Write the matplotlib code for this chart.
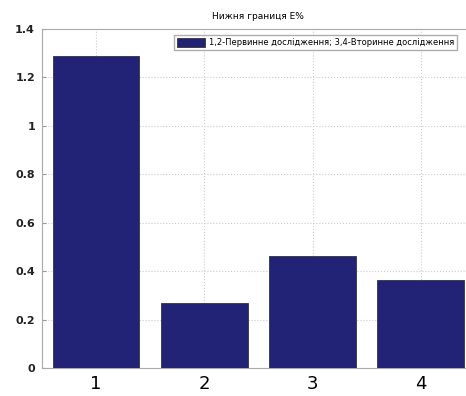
import matplotlib
matplotlib.use('Agg')
import matplotlib.pyplot as plt

categories = [1, 2, 3, 4]
values = [1.29, 0.268, 0.463, 0.365]
title = 'Нижня границя E%'
legend_label = '1,2-Первинне дослідження; 3,4-Вторинне дослідження'
yticks = [0, 0.2, 0.4, 0.6, 0.8, 1, 1.2, 1.4]

fig = plt.figure(figsize=(4.66, 3.96), dpi=100)
ax = fig.add_axes([0.090, 0.0707, 0.929, 0.856])

ax.bar(categories, values, width=0.8, color='#222277', edgecolor='#333333',
       linewidth=0.6, label=legend_label, zorder=3)

ax.set_xlim(0.5, 4.5)
ax.set_ylim(0, 1.4)
ax.set_xticks(categories)
ax.set_yticks(yticks)
ax.set_yticklabels([('%g' % t) for t in yticks], fontsize=8, fontweight='bold',
                   color='#222222')
ax.set_xticklabels([str(c) for c in categories], fontsize=13,
                   family=['Liberation Sans Narrow', 'DejaVu Sans'])
ax.tick_params(direction='in', length=3, color='#999999', pad=5)
ax.grid(True, linestyle=':', color='#cccccc', linewidth=0.8, zorder=0)
for s in ax.spines.values():
    s.set_color('#aaaaaa')
    s.set_linewidth(0.8)

ax.set_title(title, fontsize=6.5, pad=7)
ax.legend(loc='upper left', bbox_to_anchor=(0.295, 0.995), fontsize=6.0,
          frameon=True, fancybox=False, edgecolor='#999999',
          handlelength=3.4, handleheight=1.3, handletextpad=0.5,
          borderpad=0.35)

fig.savefig('out.png', dpi=100)
